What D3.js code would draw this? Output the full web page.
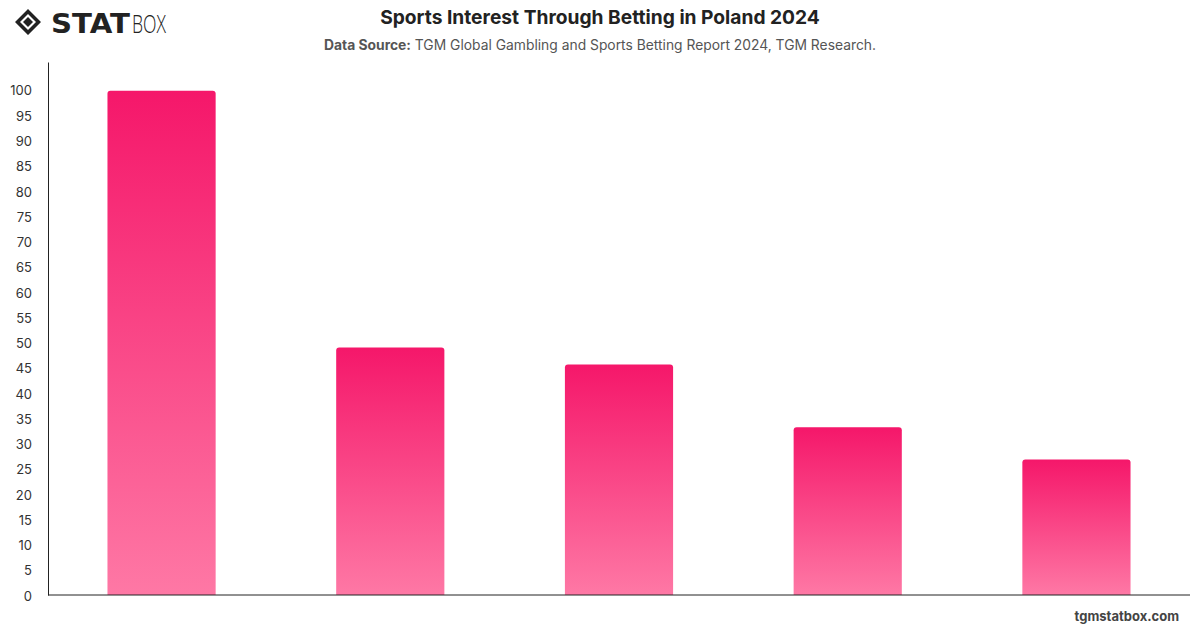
<!DOCTYPE html>
<html>
<head>
<meta charset="utf-8">
<script src="https://cdn.jsdelivr.net/npm/d3@7"></script>
<style>
  body { margin: 0; background: #fff; font-family: Inter, "Open Sans", sans-serif; }
</style>
</head>
<body>
<div id="viz"></div>
<script>
const categories = ["Football", "Volleyball", "Ski jumping", "Tennis", "Basketball"];
const values = [99.8, 49.0, 45.6, 33.2, 26.8];
const yTicks = [0, 5, 10, 15, 20, 25, 30, 35, 40, 45, 50, 55, 60, 65, 70, 75, 80, 85, 90, 95, 100];

const width = 1200;
const height = 628;
const margin = { left: 48, right: 10, top: 62, bottom: 33 };

const svg = d3.select("#viz").append("svg")
    .attr("width", width)
    .attr("height", height);

const defs = svg.append("defs");
const grad = defs.append("linearGradient")
    .attr("id", "barGrad")
    .attr("x1", 0).attr("y1", 0).attr("x2", 0).attr("y2", 1);
grad.append("stop").attr("offset", "0%").attr("stop-color", "#f5176a");
grad.append("stop").attr("offset", "100%").attr("stop-color", "#fe78a5");

// logo
const logo = svg.append("g").attr("transform", "translate(15,9)");
logo.append("path")
    .attr("d", "M13,0 L26,13 L13,26 L0,13 Z M13,5 L5,13 L13,21 L21,13 Z")
    .attr("fill", "#222")
    .attr("fill-rule", "evenodd");
logo.append("path")
    .attr("d", "M13,8 L18,13 L13,18 L8,13 Z")
    .attr("fill", "#222");
logo.append("text")
    .attr("x", 36).attr("y", 24)
    .attr("textLength", 79)
    .attr("lengthAdjust", "spacingAndGlyphs")
    .style("font-family", "'DejaVu Sans', sans-serif")
    .style("font-weight", 900)
    .style("font-size", "27px")
    .attr("fill", "#222")
    .text("STAT");
logo.append("text")
    .attr("x", 117).attr("y", 24)
    .attr("textLength", 34)
    .attr("lengthAdjust", "spacingAndGlyphs")
    .style("font-family", "'Open Sans', sans-serif")
    .style("font-weight", 300)
    .style("font-size", "26px")
    .attr("fill", "#222")
    .text("BOX");

// titles
svg.append("text")
    .attr("x", 600).attr("y", 24)
    .attr("text-anchor", "middle")
    .style("font-weight", 700)
    .style("font-size", "19.2px")
    .attr("fill", "#222")
    .text("Sports Interest Through Betting in Poland 2024");

const sub = svg.append("text")
    .attr("x", 600).attr("y", 50)
    .attr("text-anchor", "middle")
    .style("font-size", "13.85px")
    .attr("fill", "#555");
sub.append("tspan").style("font-weight", 700).text("Data Source:");
sub.append("tspan").text(" TGM Global Gambling and Sports Betting Report 2024, TGM Research.");

const xScale = d3.scaleBand()
    .domain(categories)
    .range([margin.left, width - margin.right])
    .paddingInner(0.527)
    .paddingOuter(0.26);

const yScale = d3.scaleLinear()
    .domain([0, 105.5])
    .range([height - margin.bottom, margin.top]);

// bars with rounded top corners
const r = 3;
svg.selectAll(".bar")
    .data(values)
    .join("path")
        .attr("class", "bar")
        .attr("fill", "url(#barGrad)")
        .attr("d", (d, i) => {
            const x0 = xScale(categories[i]);
            const x1 = x0 + xScale.bandwidth();
            const y0 = yScale(d);
            const yb = yScale(0);
            return `M${x0},${yb} L${x0},${y0 + r} Q${x0},${y0} ${x0 + r},${y0} L${x1 - r},${y0} Q${x1},${y0} ${x1},${y0 + r} L${x1},${yb} Z`;
        });

// y axis
const yAxis = svg.append("g")
    .attr("transform", `translate(${margin.left},0)`)
    .call(d3.axisLeft(yScale).tickValues(yTicks).tickSize(0).tickPadding(16));
yAxis.select(".domain").attr("stroke", "#222");
yAxis.selectAll("text")
    .attr("dy", "0.4em")
    .style("font-family", "Inter, sans-serif")
    .style("font-size", "13px")
    .attr("fill", "#333");

// x axis line
svg.append("line")
    .attr("x1", margin.left).attr("x2", width - margin.right)
    .attr("y1", yScale(0)).attr("y2", yScale(0))
    .attr("stroke", "#222");

svg.append("text")
    .attr("x", 1179).attr("y", 621)
    .attr("text-anchor", "end")
    .style("font-weight", 700)
    .style("font-size", "13px")
    .attr("fill", "#444")
    .text("tgmstatbox.com");
</script>
</body>
</html>
